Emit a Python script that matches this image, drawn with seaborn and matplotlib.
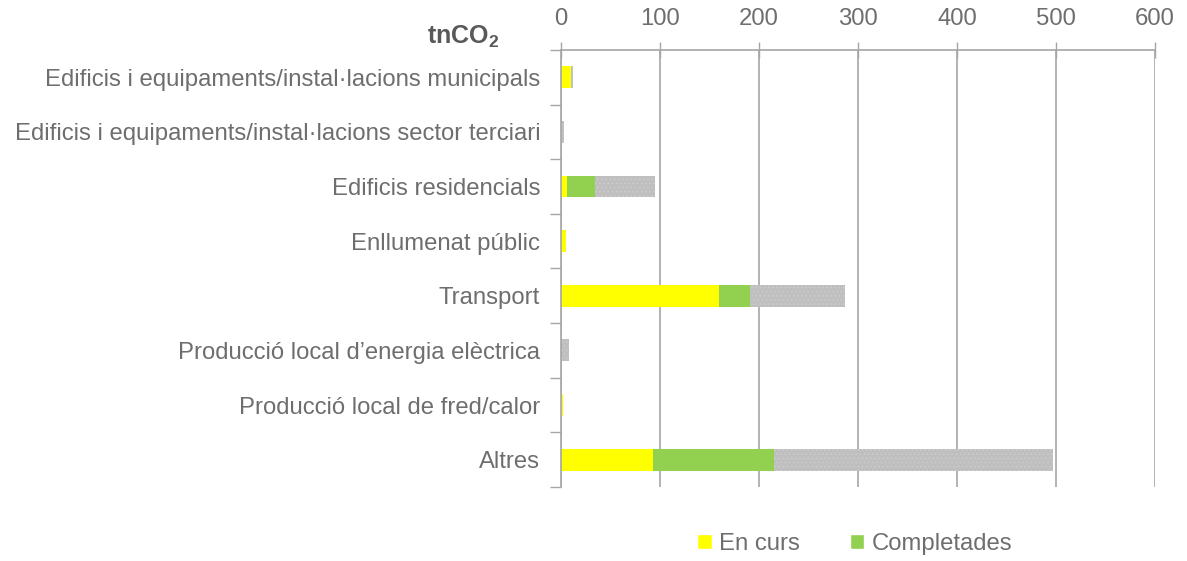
import matplotlib
matplotlib.use("Agg")
import matplotlib.pyplot as plt
import seaborn as sns
import pandas as pd
import numpy as np
from matplotlib.patches import Patch
from matplotlib.ticker import FixedLocator

categories = [
    "Edificis i equipaments/instal·lacions municipals",
    "Edificis i equipaments/instal·lacions sector terciari",
    "Edificis residencials",
    "Enllumenat públic",
    "Transport",
    "Producció local d’energia elèctrica",
    "Producció local de fred/calor",
    "Altres",
]
en_curs = [10, 0, 6, 5, 160, 0, 2, 93]
completades = [0, 0, 28.5, 0, 31, 0, 0, 122]
previstes = [2, 3, 60.5, 0, 96, 8.5, 0, 282]
x_ticks = [0, 100, 200, 300, 400, 500, 600]

sns.set_theme(style="white")
plt.rcParams["font.family"] = ["Liberation Sans", "DejaVu Sans"]
plt.rcParams["mathtext.fontset"] = "custom"
plt.rcParams["mathtext.rm"] = "Liberation Sans"
plt.rcParams["mathtext.bf"] = "Liberation Sans:bold"
plt.rcParams["hatch.linewidth"] = 0.6

df = pd.DataFrame({"cat": categories, "en_curs": en_curs,
                   "completades": completades, "previstes": previstes})
df["c2"] = df["en_curs"] + df["completades"]
df["c3"] = df["c2"] + df["previstes"]

fig = plt.figure(figsize=(11.87, 5.61), dpi=100)
ax = fig.add_axes([0.4726, 0.132, 0.5004, 0.779])

YEL, GRN, GRY = "#FFFF00", "#92D050", "#BFBFBF"
TXT = "#6E6E6E"
FS = 17.2
w = 0.4

sns.barplot(data=df, y="cat", x="c3", color=GRY, orient="h", width=w,
            saturation=1, ax=ax)
n0 = len(ax.patches)
for p in ax.patches:
    p.set_hatch("....")
    p.set_edgecolor("#CDCDCD")
    p.set_linewidth(0)
sns.barplot(data=df, y="cat", x="c2", color=GRN, orient="h", width=w,
            saturation=1, ax=ax)
sns.barplot(data=df, y="cat", x="en_curs", color=YEL, orient="h", width=w,
            saturation=1, ax=ax)
for p in ax.patches[n0:]:
    p.set_linewidth(0)

ax.set_xlim(0, 600)
ax.set_ylim(len(categories) - 0.5, -0.5)
ax.set_xticks(x_ticks)
ax.xaxis.tick_top()
ax.xaxis.set_label_position("top")
ax.set_xlabel("")
ax.set_ylabel("")
ax.tick_params(axis="x", which="major", direction="inout", length=12,
               width=1, color="#A6A6A6", labelsize=FS, labelcolor=TXT, pad=8)
ax.tick_params(axis="y", which="major", length=0, labelsize=FS,
               labelcolor=TXT, pad=15)
ax.yaxis.set_minor_locator(FixedLocator(np.arange(-0.5, len(categories) + 0.5, 1)))
ax.tick_params(axis="y", which="minor", direction="out", length=8, width=1,
               color="#A6A6A6", left=True)
ax.grid(axis="x", color="#A6A6A6", linewidth=1.2)
ax.grid(axis="y", visible=False)
ax.set_axisbelow(True)
for s in ["right", "bottom"]:
    ax.spines[s].set_visible(False)
for s in ["left", "top"]:
    ax.spines[s].set_color("#A6A6A6")
    ax.spines[s].set_linewidth(1.2)

fig.text(0.39, 0.935, r"$\mathbf{tnCO}_\mathbf{2}$", ha="center", va="center",
         fontsize=18, color="#595959")

handles = [Patch(facecolor=YEL, label="En curs"),
           Patch(facecolor=GRN, label="Completades")]
fig.legend(handles=handles, loc="center", bbox_to_anchor=(0.72, 0.03), ncol=2,
           frameon=False, fontsize=FS, handlelength=0.6, handleheight=0.6,
           handletextpad=0.3, columnspacing=2.1, labelcolor=TXT)

fig.savefig("out.png", dpi=100)
